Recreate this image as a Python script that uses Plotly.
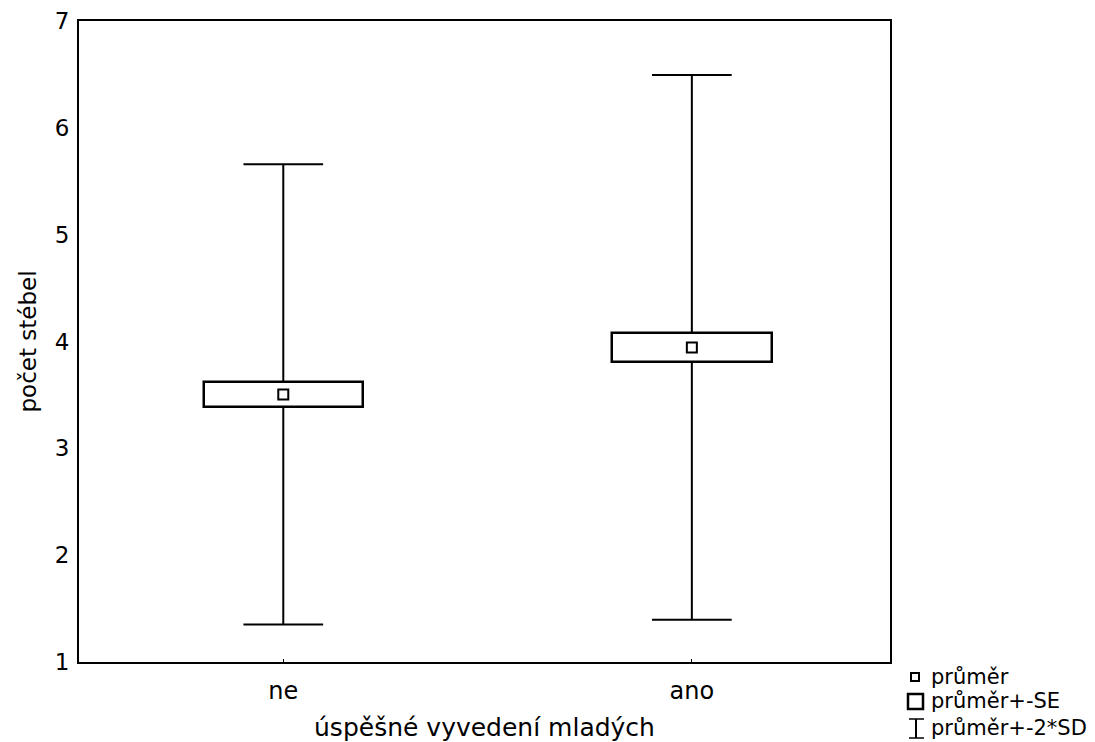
import plotly.graph_objects as go

categories = ["ne", "ano"]
positions = [0, 1]
means = [3.505, 3.945]
se = [0.12, 0.138]
sd = [1.077, 1.275]
y_ticks = [1, 2, 3, 4, 5, 6, 7]
legend_labels = ["průměr", "průměr+-SE", "průměr+-2*SD"]

q1 = [m - s for m, s in zip(means, se)]
q3 = [m + s for m, s in zip(means, se)]
lo = [m - 2 * d for m, d in zip(means, sd)]
hi = [m + 2 * d for m, d in zip(means, sd)]

FONT = "DejaVu Sans, Liberation Sans, Arial, sans-serif"
BOX_W = 0.39
CAP_HALF = BOX_W / 4

# whisker segments built from the data arrays (outside of the SE box)
wx, wy = [], []
for p, a, b, c, d in zip(positions, lo, q1, q3, hi):
    wx += [p, p, None, p - CAP_HALF, p + CAP_HALF, None,
           p, p, None, p - CAP_HALF, p + CAP_HALF, None]
    wy += [c, d, None, d, d, None,
           b, a, None, a, a, None]

fig = go.Figure()
fig.add_trace(go.Bar(
    x=positions, y=[2 * s for s in se], base=q1, width=BOX_W,
    marker=dict(color="white", line=dict(color="black", width=2.5)),
    showlegend=False, hoverinfo="skip",
))
fig.add_trace(go.Scatter(
    x=wx, y=wy, mode="lines", line=dict(color="black", width=2),
    showlegend=False, hoverinfo="skip",
))
fig.add_trace(go.Scatter(
    x=positions, y=means, mode="markers",
    marker=dict(symbol="square-open", size=10, color="black", line=dict(width=2, color="black")),
    showlegend=False, hoverinfo="skip",
))

# page body has an 8px margin; figure is sized to fit inside the 1095x742 window
OFF = 8
FW, FH = 1095 - OFF, 742 - OFF
L, R, T, B = 79, 890, 21, 662   # plot area in window pixels
W, H = R - L, B - T

def px(x):
    return (x - L) / W

def py(y):
    return (B - y) / H

shapes = [
    dict(type="rect", xref="paper", yref="paper", x0=px(911), x1=px(919), y0=py(681), y1=py(673),
         line=dict(color="black", width=2), fillcolor="white"),
    dict(type="rect", xref="paper", yref="paper", x0=px(908), x1=px(923), y0=py(709), y1=py(694),
         line=dict(color="black", width=2.5), fillcolor="white"),
    dict(type="line", xref="paper", yref="paper", x0=px(916), x1=px(916), y0=py(738), y1=py(719),
         line=dict(color="black", width=2)),
    dict(type="line", xref="paper", yref="paper", x0=px(909), x1=px(924), y0=py(719), y1=py(719),
         line=dict(color="black", width=1.5)),
    dict(type="line", xref="paper", yref="paper", x0=px(909), x1=px(924), y0=py(738), y1=py(738),
         line=dict(color="black", width=1.5)),
]
annotations = []
for lab, yy in zip(legend_labels, [677, 701, 728]):
    annotations.append(dict(text=lab, xref="paper", yref="paper", x=px(929), y=py(yy),
                            xanchor="left", yanchor="middle", showarrow=False,
                            font=dict(family=FONT, size=21, color="black")))

fig.update_layout(
    width=FW, height=FH,
    margin=dict(l=L - OFF, r=FW - (R - OFF), t=T - OFF, b=FH - (B - OFF), pad=0),
    plot_bgcolor="white", paper_bgcolor="white",
    font=dict(family=FONT, color="black"),
    shapes=shapes, annotations=annotations, bargap=0,
    xaxis=dict(range=[-0.5, 1.485], tickvals=positions, ticktext=categories,
               showline=True, linecolor="black", linewidth=2, mirror=True,
               ticks="inside", ticklen=3, tickwidth=1, tickcolor="black",
               showgrid=False, zeroline=False, automargin=False,
               tickfont=dict(size=24), ticklabelstandoff=6,
               title=dict(text="úspěšné vyvedení mladých", font=dict(size=25), standoff=19)),
    yaxis=dict(range=[1, 7], tickvals=y_ticks,
               showline=True, linecolor="black", linewidth=2, mirror=True,
               ticks="", showgrid=False, zeroline=False, automargin=False,
               tickfont=dict(size=23), ticklabelstandoff=3,
               title=dict(text="počet stébel", font=dict(size=23), standoff=12)),
)

fig.write_html("out.html")
